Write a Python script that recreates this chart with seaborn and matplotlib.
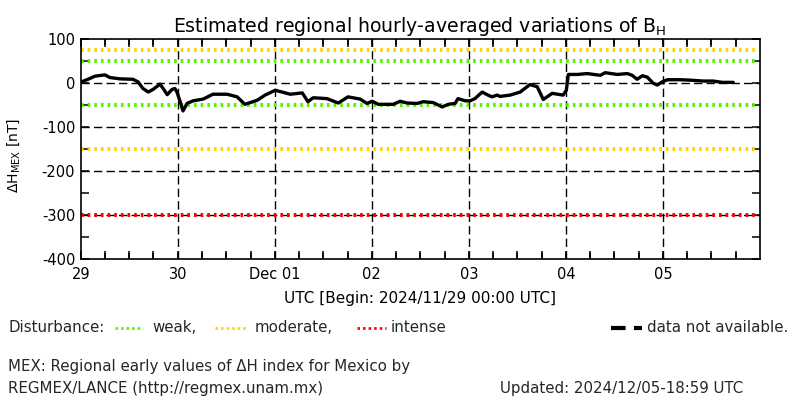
import numpy as np
import pandas as pd
import matplotlib
matplotlib.use("Agg")
import matplotlib.pyplot as plt
from matplotlib.lines import Line2D
import seaborn as sns

# ---- data (hours since 2024/11/29 00:00 UTC, Delta H in nT) ----
hours = [0.2, 2.3, 3.5, 6.0, 7.2, 9.7, 12.9, 14.2, 15.4, 16.7, 17.9, 19.6, 20.4, 21.4,
         22.6, 23.3, 23.8, 24.6, 25.3, 26.3, 27.8, 30.3, 32.7, 36.2, 38.7, 40.6, 43.6,
         45.6, 48.1, 49.8, 51.8, 54.8, 56.2, 57.5, 60.9, 63.7, 66.1, 69.1, 70.8, 72.1,
         73.6, 77.3, 79.0, 80.7, 83.2, 84.7, 87.2, 89.4, 90.9, 92.6, 93.3, 95.1, 96.3,
         97.5, 99.3, 100.5, 101.7, 103.0, 103.7, 106.2, 108.7, 111.1, 112.9, 114.4,
         116.6, 119.3, 120.1, 120.6, 122.8, 125.3, 128.5, 129.7, 132.7, 135.2, 136.4,
         137.6, 138.9, 140.1, 141.6, 142.6, 143.8, 145.1, 148.3, 150.8, 154.0, 156.4,
         158.7, 161.4]
dh = [3, 11, 16, 19, 13, 10, 9, 3, -12, -20, -14, -2, -12, -26,
      -14, -12, -20, -42, -63, -46, -40, -36, -25, -25, -31, -48, -39,
      -27, -16, -20, -25, -22, -42, -33, -35, -45, -31, -36, -46, -41,
      -48, -48, -41, -45, -46, -42, -44, -54, -48, -46, -35, -40, -40,
      -35, -20, -26, -31, -27, -30, -27, -20, -3, -8, -37,
      -23, -27, -16, 20, 20, 22, 18, 24, 20, 22, 18,
      9, 17, 14, 0, -4, 3, 8, 8, 7, 5, 5,
      2, 2]

day_ticks = [0, 24, 48, 72, 96, 120, 144]
day_labels = ["29", "30", "Dec 01", "02", "03", "04", "05"]
y_ticks = [100, 0, -100, -200, -300, -400]

weak_levels = [50, -50]
moderate_levels = [75, -150]
intense_levels = [-300]
grid_levels = [0, -100, -200, -300]

GREEN = "#55f500"
YELLOW = "#ffd400"
RED = "#ff0000"

sns.set_theme(style="white")
plt.rcParams["font.family"] = ["DejaVu Sans"]
plt.rcParams["axes.unicode_minus"] = True
plt.rcParams["xtick.bottom"] = True
plt.rcParams["xtick.top"] = True
plt.rcParams["ytick.left"] = True
plt.rcParams["ytick.right"] = True

fig = plt.figure(figsize=(8, 4), dpi=100)
fig.patch.set_facecolor("white")
ax = fig.add_axes([80.7 / 800, 1 - 259 / 400, (760 - 80.7) / 800, (259 - 39.3) / 400])
ax.set_facecolor("white")

dash = (0, (6, 3))
dot = (0, (0.65, 1.0))

for y in grid_levels:
    ax.axhline(y, color="black", lw=1.0, ls=dash, zorder=1)
for d in day_ticks[1:]:
    ax.axvline(d, color="black", lw=1.0, ls=dash, zorder=1)

for y in weak_levels:
    ax.axhline(y, xmax=0.997, color=GREEN, lw=2.9, ls=dot, zorder=2)
for y in moderate_levels:
    ax.axhline(y, xmax=0.997, color=YELLOW, lw=2.9, ls=dot, zorder=2)
for y in intense_levels:
    ax.axhline(y, xmax=0.997, color=RED, lw=2.9, ls=dot, zorder=2)

df = pd.DataFrame({"hour": hours, "dH": dh})
sns.lineplot(data=df, x="hour", y="dH", ax=ax, color="black", lw=2.4, zorder=4)

ax.set_xlim(0, 168)
ax.set_ylim(-400, 100)

# all ticks as major ticks; labels only at day boundaries / hundreds
xt = list(range(0, 168, 6))
ax.set_xticks(xt)
ax.set_xticklabels([day_labels[day_ticks.index(h)] if h in day_ticks else "" for h in xt])
yt = list(range(-400, 101, 50))
ax.set_yticks(yt)
ax.set_yticklabels([f"{v}" if v in y_ticks else "" for v in yt])
ax.tick_params(which="both", direction="in", top=True, right=True, bottom=True, left=True,
               length=6, width=1.1, color="black", labelsize=10.5, labelcolor="black")
ax.tick_params(axis="x", pad=6)
ax.tick_params(axis="y", pad=4)
# explicit 6-hour tick marks along bottom and top edges (inward)
tr = ax.get_xaxis_transform()
ax.vlines(xt[1:], 0, 0.028, transform=tr, color="black", lw=1.1, zorder=5, clip_on=False)
ax.vlines(xt[1:], 0.972, 1, transform=tr, color="black", lw=1.1, zorder=5, clip_on=False)

for s in ax.spines.values():
    s.set_color("black")
    s.set_linewidth(1.2)
ax.set_xlabel("")
ax.set_ylabel(r"$\Delta$H$_{\rm MEX}$ [nT]", fontsize=10, color="black")
ax.yaxis.set_label_coords(-0.086, 0.47)

fig.text(0.525, 1 - 27 / 400, r"Estimated regional hourly-averaged variations of B$_{\rm H}$",
         ha="center", va="center", fontsize=13.6, color="black")
fig.text(0.525, 1 - 298 / 400, "UTC [Begin: 2024/11/29 00:00 UTC]",
         ha="center", va="center", fontsize=11, color="black")

# legend row
ly = 1 - 328 / 400
fs = 10.8
fig.text(8 / 800, ly, "Disturbance:", ha="left", va="center", fontsize=fs)
for (x0, x1, c, lab, tx) in [(115, 143, GREEN, "weak,", 152),
                             (215, 247, YELLOW, "moderate,", 255),
                             (357, 386, RED, "intense", 391)]:
    fig.add_artist(Line2D([x0 / 800, x1 / 800], [ly, ly], color=c, lw=2.0,
                          ls=(0, (0.9, 1.1)), transform=fig.transFigure))
    fig.text(tx / 800, ly, lab, ha="left", va="center", fontsize=fs)
fig.add_artist(Line2D([611 / 800, 642 / 800], [ly, ly], color="black", lw=3.0,
                      ls=(0, (3.5, 2)), transform=fig.transFigure))
fig.text(647 / 800, ly, "data not available.", ha="left", va="center", fontsize=fs)

fig.text(8 / 800, 1 - 367 / 400, "MEX: Regional early values of ΔH index for Mexico by",
         ha="left", va="center", fontsize=fs)
fig.text(8 / 800, 1 - 388 / 400, "REGMEX/LANCE (http://regmex.unam.mx)",
         ha="left", va="center", fontsize=fs)
fig.text(500 / 800, 1 - 388 / 400, "Updated: 2024/12/05-18:59 UTC",
         ha="left", va="center", fontsize=fs)

fig.savefig("out.png", dpi=100, facecolor="white")
